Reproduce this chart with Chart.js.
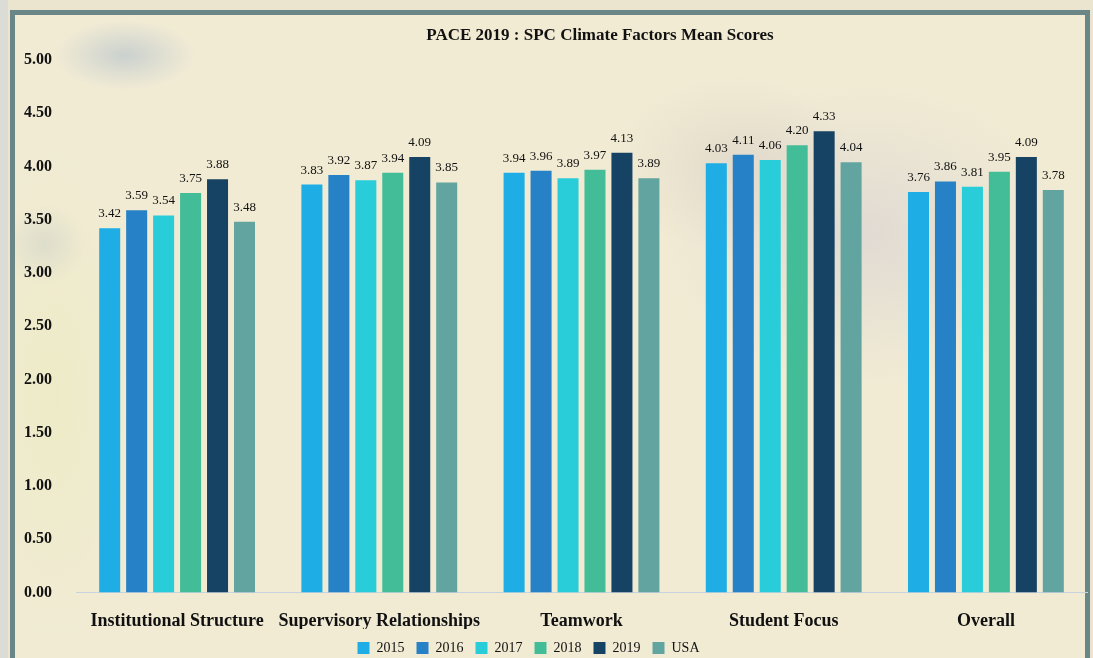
<!DOCTYPE html>
<html>
<head>
<meta charset="utf-8">
<script src="https://cdn.jsdelivr.net/npm/chart.js@4.4.1/dist/chart.umd.min.js"></script>
<style>
  body { margin: 0; background: #ebe5d0; }
  #wrap { position: relative; width: 1093px; height: 658px; overflow: hidden; }
  #frame {
    position: absolute; left: 10px; top: 10px; width: 1070px; height: 660px;
    border: 5px solid #6b8686; border-bottom: none;
    background:
      radial-gradient(ellipse 70px 35px at 110px 40px, rgba(190,200,205,0.75), rgba(190,200,205,0) 100%),
      radial-gradient(ellipse 200px 150px at 850px 220px, rgba(210,205,210,0.55), rgba(210,205,210,0) 100%),
      radial-gradient(ellipse 120px 90px at 720px 150px, rgba(215,205,195,0.5), rgba(215,205,195,0) 100%),
      radial-gradient(ellipse 90px 250px at 40px 380px, rgba(235,235,190,0.6), rgba(235,235,190,0) 100%),
      radial-gradient(ellipse 40px 40px at 30px 230px, rgba(200,205,205,0.6), rgba(200,205,205,0) 100%),
      #f1ebd4;
  }
  #frame-left { position: absolute; left: 0; top: 0; width: 8px; height: 658px; background: #dcdcd6; }
  #chartBox { position: absolute; left: 0; top: 0; width: 1093px; height: 658px; }
</style>
</head>
<body>
<div id="wrap">
  <div id="frame-left"></div>
  <div id="frame"></div>
  <div id="chartBox"><canvas id="myChart" width="1093" height="658"></canvas></div>
</div>
<script>
  let categories = ["Institutional Structure", "Supervisory Relationships", "Teamwork", "Student Focus", "Overall"];
  let years = ["2015", "2016", "2017", "2018", "2019", "USA"];
  let data2015 = [3.42, 3.83, 3.94, 4.03, 3.76];
  let data2016 = [3.59, 3.92, 3.96, 4.11, 3.86];
  let data2017 = [3.54, 3.87, 3.89, 4.06, 3.81];
  let data2018 = [3.75, 3.94, 3.97, 4.20, 3.95];
  let data2019 = [3.88, 4.09, 4.13, 4.33, 4.09];
  let dataUSA = [3.48, 3.85, 3.89, 4.04, 3.78];
  let colors = ["#1eaee5", "#2681c6", "#28cdd9", "#43bd98", "#164363", "#62a5a0"];

  let allData = [data2015, data2016, data2017, data2018, data2019, dataUSA];

  // value labels above the bars + title
  const barLabels = {
    id: "barLabels",
    afterLayout(chart) {
      // legend sits a bit left of centre in the original
      chart.legend.left -= 19;
      chart.legend.right -= 19;
    },
    afterDatasetsDraw(chart) {
      const ctx = chart.ctx;
      ctx.save();
      ctx.font = "13px 'Liberation Serif', serif";
      ctx.fillStyle = "#111";
      ctx.textAlign = "center";
      ctx.textBaseline = "bottom";
      chart.data.datasets.forEach((ds, i) => {
        chart.getDatasetMeta(i).data.forEach((bar, j) => {
          ctx.fillText(ds.data[j].toFixed(2), bar.x, bar.y - 8);
        });
      });
      ctx.font = "bold 17px 'Liberation Serif', serif";
      ctx.textBaseline = "middle";
      ctx.fillText("PACE 2019 : SPC Climate Factors Mean Scores", 600, 36);
      ctx.restore();
    }
  };

  let ctx = document.getElementById("myChart").getContext("2d");
  let chart = new Chart(ctx, {
    type: "bar",
    data: {
      labels: categories,
      datasets: years.map((y, i) => ({
        label: y,
        data: allData[i],
        backgroundColor: colors[i],
        barPercentage: 0.78,
        categoryPercentage: 0.8,
      })),
    },
    options: {
      responsive: false,
      animation: false,
      devicePixelRatio: 1,
      layout: { padding: { left: 8, right: 6, top: 60, bottom: -7 } },
      scales: {
        y: {
          min: 0,
          max: 5,
          ticks: {
            stepSize: 0.5,
            padding: 16,
            color: "#111",
            font: { family: "'Liberation Serif', serif", size: 16, weight: "bold" },
            callback: (v) => v.toFixed(2),
          },
          grid: { display: false },
          border: { display: false },
        },
        x: {
          ticks: {
            color: "#111",
            padding: 10,
            maxRotation: 0,
            minRotation: 0,
            autoSkip: false,
            font: { family: "'Liberation Serif', serif", size: 18, weight: "bold" },
          },
          afterFit: (scale) => { scale.height -= 13; },
          grid: { display: false },
          border: { color: "#c9d3dd", width: 1 },
        },
      },
      plugins: {
        legend: {
          position: "bottom",
          labels: {
            color: "#111",
            boxWidth: 12,
            boxHeight: 12,
            padding: 12,
            font: { family: "'Liberation Serif', serif", size: 14 },
          },
        },
        tooltip: { enabled: false },
      },
    },
    plugins: [barLabels],
  });
</script>
</body>
</html>
